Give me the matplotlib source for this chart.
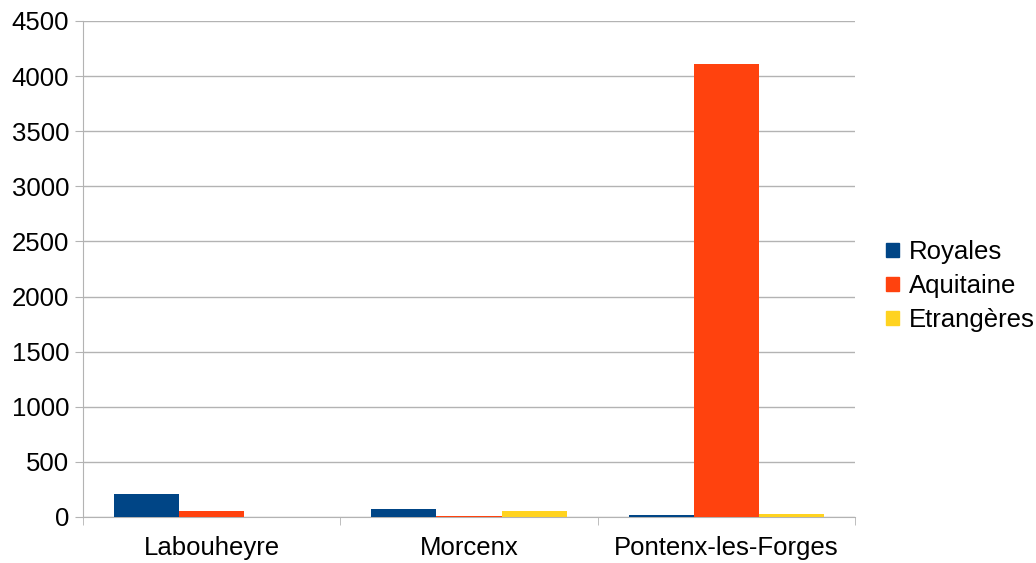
import matplotlib
matplotlib.use("Agg")
import matplotlib.pyplot as plt
import numpy as np

categories = ["Labouheyre", "Morcenx", "Pontenx-les-Forges"]
series = ["Royales", "Aquitaine", "Etrangères"]
royales = [210, 73, 20]
aquitaine = [55, 12, 4110]
etrangeres = [0, 55, 30]
colors = ["#004586", "#ff420e", "#ffd320"]

plt.rcParams['font.family'] = ['Liberation Sans', 'DejaVu Sans']
fig = plt.figure(figsize=(10.36, 5.63), dpi=100)
ax = fig.add_axes([83/1036, 1-517/563, (855-83)/1036, (517-21)/563])

x = np.arange(len(categories))
w = 0.253
for i, (vals, name) in enumerate(zip([royales, aquitaine, etrangeres], series)):
    ax.bar(x + (i-1)*w, vals, w, color=colors[i], label=name, zorder=3)

fs = 18.5
ax.set_xlim(-0.5, 2.5)
ax.set_ylim(0, 4500)
ax.set_yticks(range(0, 4501, 500))
ax.set_xticks(x)
ax.set_xticklabels(categories)
ax.set_xticks([-0.5, 0.5, 1.5, 2.5], minor=True)
ax.tick_params(axis='x', which='major', length=0, labelsize=fs, pad=14, colors='black')
ax.tick_params(axis='x', which='minor', length=6, color='#b3b3b3')
ax.tick_params(axis='y', length=6, color='#b3b3b3', labelsize=fs, pad=4)
ax.grid(axis='y', color='#b3b3b3', linewidth=1, zorder=0)
for s in ax.spines.values():
    s.set_color('#b3b3b3')
ax.spines['top'].set_visible(False)
ax.spines['right'].set_visible(False)

handles = [plt.Rectangle((0, 0), 1, 1, color=c) for c in colors]
fig.legend(handles, series, loc='center left', bbox_to_anchor=(886/1036, 1-286/563),
           frameon=False, fontsize=fs, handlelength=0.5, handleheight=0.5,
           handletextpad=0.38, labelspacing=0.39, borderaxespad=0, borderpad=0)

fig.savefig("out.png", dpi=100)
